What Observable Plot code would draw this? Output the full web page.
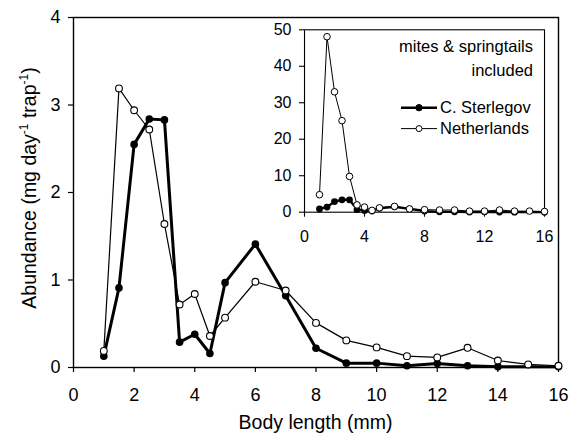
<!DOCTYPE html>
<html>
<head>
<meta charset="utf-8">
<script src="https://cdn.jsdelivr.net/npm/d3@7"></script>
<script src="https://cdn.jsdelivr.net/npm/@observablehq/plot@0.6"></script>
<style>
  html, body { margin: 0; padding: 0; background: #fff; }
  #wrap { position: relative; width: 571px; height: 433px; }
  #wrap svg { position: absolute; left: 0; top: 0; overflow: visible; }
</style>
</head>
<body>
<div id="wrap"></div>
<script>
// ---- data ----
const sizes = [1, 1.5, 2, 2.5, 3, 3.5, 4, 4.5, 5, 6, 7, 8, 9, 10, 11, 12, 13, 14, 15, 16];
// main panel (mites & springtails excluded), mg day-1 trap-1
const sterlegov   = [0.13, 0.91, 2.55, 2.84, 2.83, 0.29, 0.38, 0.16, 0.97, 1.41, 0.82, 0.22, 0.05, 0.05, 0.02, 0.045, 0.02, 0.01, null, 0.01];
const netherlands = [0.19, 3.19, 2.94, 2.72, 1.64, 0.72, 0.84, 0.36, 0.57, 0.98, 0.88, 0.51, 0.31, 0.23, 0.13, 0.115, 0.225, 0.08, 0.035, 0.02];
// inset (mites & springtails included)
const insetSterlegov   = [0.9, 1.4, 2.9, 3.4, 3.4, 0.7, 0.5, 0.3, 1.1, 1.5, 0.9, 0.3, 0.1, 0.1, 0.05, 0.1, 0.05, 0.02, null, 0.02];
const insetNetherlands = [4.8, 48.1, 33.0, 25.1, 9.8, 2.0, 1.4, 0.5, 1.2, 1.6, 0.9, 0.7, 0.6, 0.6, 0.3, 0.3, 0.6, 0.3, 0.3, 0.2];

const xTicks = [0, 2, 4, 6, 8, 10, 12, 14, 16];
const yTicks = [0, 1, 2, 3, 4];
const insetXTicks = [0, 4, 8, 12, 16];
const insetYTicks = [0, 10, 20, 30, 40, 50];

const seriesNames = ["C. Sterlegov", "Netherlands"];
const xTitle = "Body length (mm)";
const noteLines = ["mites & springtails", "included"];

// ---- build tables ----
const rows = (vals) => sizes.map((s, i) => ({size: s, value: vals[i]})).filter(d => d.value != null);
const mainS = rows(sterlegov), mainN = rows(netherlands);
const insS = rows(insetSterlegov), insN = rows(insetNetherlands);

const FONT = '"Liberation Sans", Arial, Helvetica, sans-serif';
const W = 571, H = 433;
const fmt = d3.format("d");

// ---- main chart ----
const main = Plot.plot({
  width: W, height: H,
  marginTop: 17, marginRight: 13, marginBottom: 66, marginLeft: 73,
  style: {background: "transparent", fontFamily: FONT, fontSize: "18px", color: "#000", overflow: "visible"},
  x: {domain: [0, 16]},
  y: {domain: [0, 4]},
  marks: [
    Plot.axisX({ticks: xTicks, tickFormat: fmt, tickSize: 5, tickPadding: 16, label: null, strokeWidth: 1.2}),
    Plot.axisY({ticks: yTicks, tickFormat: fmt, tickSize: 5, tickPadding: 8, label: null, strokeWidth: 1.2}),
    Plot.frame({stroke: "#000", strokeWidth: 1.4}),
    Plot.line(mainS, {x: "size", y: "value", stroke: "#000", strokeWidth: 3}),
    Plot.line(mainN, {x: "size", y: "value", stroke: "#000", strokeWidth: 1.2}),
    Plot.dot(mainS, {x: "size", y: "value", r: 3.8, fill: "#000", stroke: "none"}),
    Plot.dot(mainN, {x: "size", y: "value", r: 3.4, fill: "#fff", stroke: "#000", strokeWidth: 1.1})
  ]
});

// axis titles
const ms = d3.select(main);
ms.append("text")
  .attr("x", 315.5).attr("y", 429)
  .attr("text-anchor", "middle")
  .attr("font-family", FONT).attr("font-size", 19.5).attr("fill", "#000")
  .text(xTitle);

const yl = ms.append("text")
  .attr("transform", "translate(36,188) rotate(-90)")
  .attr("text-anchor", "middle")
  .attr("font-family", FONT).attr("font-size", 19.5).attr("fill", "#000");
yl.append("tspan").text("Abundance (mg day");
yl.append("tspan").attr("dy", -8).attr("font-size", 12).text("-1");
yl.append("tspan").attr("dy", 8).text(" trap");
yl.append("tspan").attr("dy", -8).attr("font-size", 12).text("-1");
yl.append("tspan").attr("dy", 8).text(")");

// ---- inset chart ----
const inset = Plot.plot({
  width: W, height: H,
  marginTop: 29.3, marginRight: 27, marginBottom: 221.3, marginLeft: 304,
  style: {background: "transparent", fontFamily: FONT, fontSize: "16px", color: "#000", overflow: "visible"},
  x: {domain: [0, 16]},
  y: {domain: [0, 50]},
  marks: [
    Plot.axisX({ticks: insetXTicks, tickFormat: fmt, tickSize: 5, tickPadding: 13, label: null, strokeWidth: 1.1}),
    Plot.axisY({ticks: insetYTicks, tickFormat: fmt, tickSize: 5, tickPadding: 8, label: null, strokeWidth: 1.1}),
    Plot.frame({stroke: "#000", strokeWidth: 1.1}),
    Plot.line(insS, {x: "size", y: "value", stroke: "#000", strokeWidth: 2.4}),
    Plot.line(insN, {x: "size", y: "value", stroke: "#000", strokeWidth: 1}),
    Plot.dot(insS, {x: "size", y: "value", r: 3.4, fill: "#000", stroke: "none"}),
    Plot.dot(insN, {x: "size", y: "value", r: 3.3, fill: "#fff", stroke: "#000", strokeWidth: 1})
  ]
});

const is = d3.select(inset);
// note text
noteLines.forEach((t, i) => {
  is.append("text")
    .attr("x", 533).attr("y", 52 + i * 23.5)
    .attr("text-anchor", "end")
    .attr("font-family", FONT).attr("font-size", 16.5).attr("fill", "#000")
    .text(t);
});
// legend
const legendRows = [
  {name: seriesNames[0], y: 107.7, sw: 2.4, fill: "#000", r: 3.2},
  {name: seriesNames[1], y: 128.6, sw: 1, fill: "#fff", r: 3}
];
legendRows.forEach(d => {
  is.append("line")
    .attr("x1", 401).attr("x2", 437).attr("y1", d.y).attr("y2", d.y)
    .attr("stroke", "#000").attr("stroke-width", d.sw);
  is.append("circle")
    .attr("cx", 419).attr("cy", d.y).attr("r", d.r)
    .attr("fill", d.fill).attr("stroke", "#000").attr("stroke-width", 1);
  is.append("text")
    .attr("x", 440).attr("y", d.y + 5.5)
    .attr("text-anchor", "start")
    .attr("font-family", FONT).attr("font-size", 16.5).attr("fill", "#000")
    .text(d.name);
});

const wrap = document.getElementById("wrap");
wrap.appendChild(main);
wrap.appendChild(inset);
</script>
</body>
</html>
